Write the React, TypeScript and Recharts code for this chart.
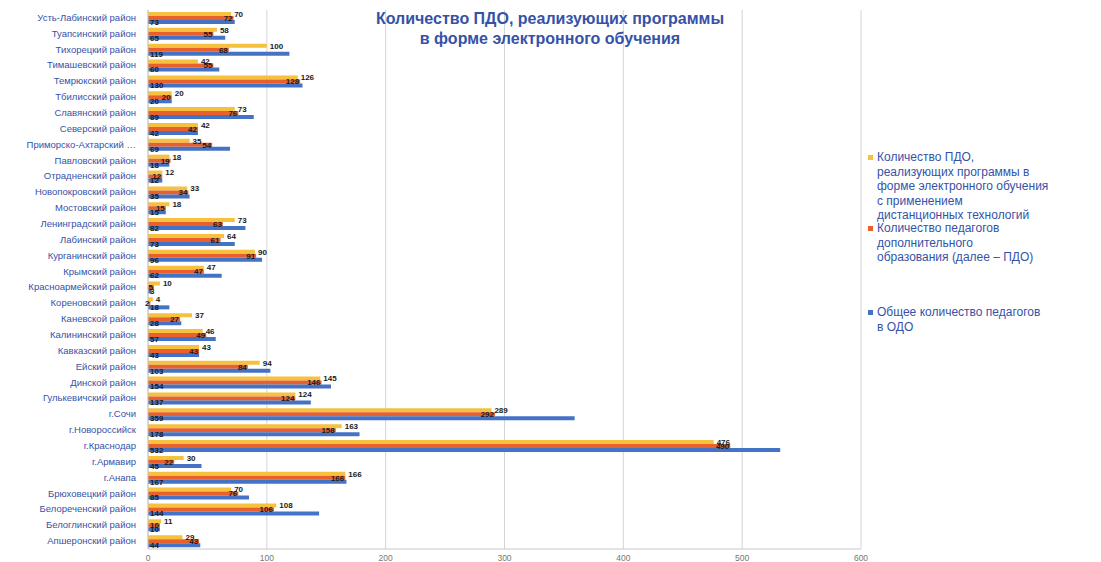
import { Bar, BarChart, CartesianGrid, LabelList, XAxis, YAxis } from "recharts";

const districts = [
  "Усть-Лабинский район", "Туапсинский район", "Тихорецкий район", "Тимашевский район",
  "Темрюкский район", "Тбилисский район", "Славянский район", "Северский район",
  "Приморско-Ахтарский район", "Павловский район", "Отрадненский район", "Новопокровский район",
  "Мостовский район", "Ленинградский район", "Лабинский район", "Курганинский район",
  "Крымский район", "Красноармейский район", "Кореновский район", "Каневской район",
  "Калининский район", "Кавказский район", "Ейский район", "Динской район",
  "Гулькевичский район", "г.Сочи", "г.Новороссийск", "г.Краснодар",
  "г.Армавир", "г.Анапа", "Брюховецкий район", "Белореченский район",
  "Белоглинский район", "Апшеронский район",
];

// ПДО с электронным обучением
const eLearning = [70, 58, 100, 42, 126, 20, 73, 42, 35, 18, 12, 33, 18, 73, 64, 90, 47, 10, 4, 37, 46, 43, 94, 145, 124, 289, 163, 476, 30, 166, 70, 108, 11, 29];
// педагоги доп. образования
const pdoTeachers = [72, 55, 68, 55, 128, 20, 76, 42, 54, 19, 12, 34, 15, 63, 61, 91, 47, 5, 2, 27, 49, 43, 84, 146, 124, 292, 158, 490, 22, 166, 76, 106, 10, 43];
// всего педагогов в ОДО
const totalTeachers = [73, 65, 119, 60, 130, 20, 89, 42, 69, 18, 12, 35, 15, 82, 73, 96, 62, 3, 18, 28, 57, 43, 103, 154, 137, 359, 178, 532, 45, 167, 85, 144, 10, 44];

const xTicks = [0, 100, 200, 300, 400, 500, 600];

const data = districts.map((name, i) => ({
  name,
  eLearning: eLearning[i],
  pdo: pdoTeachers[i],
  total: totalTeachers[i],
}));

const YELLOW = "#F5C13E";
const RED = "#E8602C";
const BLUE = "#4472C4";
const TEXT_BLUE = "#3552A8";

const labelStyle = { fontSize: 8, fontWeight: 700, fill: "#1a1a1a" };

const legendItems = [
  { color: YELLOW, lines: ["Количество ПДО,", "реализующих программы в", "форме электронного обучения", "с применением", "дистанционных технологий"], top: 150 },
  { color: RED, lines: ["Количество педагогов", "дополнительного", "образования  (далее – ПДО)"], top: 221 },
  { color: BLUE, lines: ["Общее количество педагогов", "в ОДО"], top: 305 },
];

function DistrictTick(props: any) {
  const { x, y, payload } = props;
  const v: string = payload.value;
  const text = v.length > 22 ? v.slice(0, 20) + "…" : v;
  return (
    <text x={x - 4} y={y} dy={3} textAnchor="end" fontSize={9.5} fill={TEXT_BLUE}>
      {text}
    </text>
  );
}

export default function App() {
  return (
    <div style={{ position: "absolute", left: 0, top: 0, width: 1101, height: 562, overflow: "hidden", background: "#fff", fontFamily: "'Liberation Sans', Arial, sans-serif" }}>
      <BarChart
        width={1101}
        height={562}
        data={data}
        layout="vertical"
        margin={{ top: 10, right: 240, bottom: 0, left: 0 }}
        barSize={4}
        barGap={0}
      >
        <CartesianGrid horizontal={false} stroke="#d4d4d4" />
        <XAxis
          type="number"
          domain={[0, 600]}
          ticks={xTicks}
          height={13}
          tickMargin={0}
          tick={{ fontSize: 8.5, fill: "#777" }}
          tickLine={false}
          axisLine={{ stroke: "#c8c8c8" }}
        />
        <YAxis
          type="category"
          dataKey="name"
          width={148}
          interval={0}
          tickLine={false}
          axisLine={{ stroke: "#c8c8c8" }}
          tick={<DistrictTick />}
        />
        <Bar dataKey="eLearning" fill={YELLOW} isAnimationActive={false}>
          <LabelList dataKey="eLearning" position="right" offset={3} style={labelStyle} />
        </Bar>
        <Bar dataKey="pdo" fill={RED} isAnimationActive={false}>
          <LabelList dataKey="pdo" position="insideRight" offset={1} style={labelStyle} />
        </Bar>
        <Bar dataKey="total" fill={BLUE} isAnimationActive={false}>
          <LabelList dataKey="total" position="insideLeft" offset={2} style={labelStyle} />
        </Bar>
      </BarChart>

      <div style={{ position: "absolute", left: 300, top: 9, width: 500, textAlign: "center", color: TEXT_BLUE, fontWeight: 700, fontSize: 16, lineHeight: "20px" }}>
        Количество ПДО, реализующих программы
        <br />в форме электронного обучения
      </div>

      {legendItems.map((item) => (
        <div key={item.color} style={{ position: "absolute", left: 868, top: item.top, color: TEXT_BLUE, fontSize: 12, lineHeight: "14.6px" }}>
          <span style={{ position: "absolute", left: 0, top: 5, width: 5, height: 5, background: item.color }} />
          <div style={{ marginLeft: 9 }}>
            {item.lines.map((l) => (
              <div key={l} style={{ whiteSpace: "nowrap" }}>{l}</div>
            ))}
          </div>
        </div>
      ))}
    </div>
  );
}
